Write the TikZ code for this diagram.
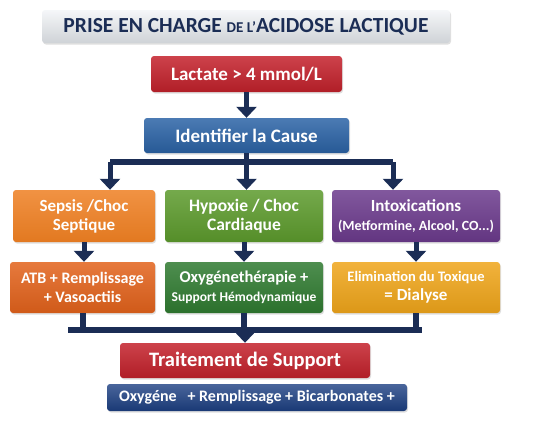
\documentclass[tikz,border=0pt]{standalone}
\usepackage{fontspec}
\setmainfont{Carlito}
\usetikzlibrary{arrows.meta,shadows}

\definecolor{marine}{HTML}{1B2D55}
\definecolor{titrefond}{HTML}{E6EAEF}
\definecolor{rouge}{HTML}{C4212B}
\definecolor{bleu}{HTML}{2B63A6}
\definecolor{orange}{HTML}{EE7F22}
\definecolor{vert}{HTML}{5C9A2C}
\definecolor{violet}{HTML}{6B3A8C}
\definecolor{orangefonce}{HTML}{E2621B}
\definecolor{vertfonce}{HTML}{2F7A30}
\definecolor{jaune}{HTML}{EFA51A}
\definecolor{bleufonce}{HTML}{1C3F82}

\tikzset{
  boite/.style={rounded corners=3pt, inner sep=0pt, align=center, text=white,
    font=\bfseries, drop shadow={opacity=0.25, shadow xshift=1pt, shadow yshift=-1.5pt}},
  fleche/.style={marine, line width=5pt, -{Triangle[width=20pt,length=11pt]}},
  barre/.style={marine, line width=6pt},
}

\begin{document}
\begin{tikzpicture}[x=1pt,y=-1pt]
  \useasboundingbox (0,0) rectangle (545,421);
  % titre
  \node[boite, top color=white!60!titrefond, bottom color=titrefond!90!black, text=marine,
    minimum width=408pt, minimum height=33pt, font=\bfseries\fontsize{21.5}{21}\selectfont]
    (titre) at (246,26.5) {PRISE EN CHARGE {\fontsize{15}{15}\selectfont DE L'}ACIDOSE LACTIQUE};
  % haut
  \node[boite, top color=rouge!85!white, bottom color=rouge!90!black,
    minimum width=191pt, minimum height=36pt, font=\bfseries\fontsize{19}{19}\selectfont]
    (lactate) at (246.5,74) {Lactate > 4 mmol/L};
  \node[boite, top color=bleu!85!white, bottom color=bleu!90!black,
    minimum width=205pt, minimum height=35pt, font=\bfseries\fontsize{19}{19}\selectfont]
    (cause) at (246.5,135.5) {Identifier la Cause};
  % causes
  \node[boite, top color=orange!85!white, bottom color=orange!95!black,
    minimum width=142pt, minimum height=52pt, font=\bfseries\fontsize{17}{19}\selectfont]
    (sepsis) at (84,216) {Sepsis /Choc\\Septique};
  \node[boite, top color=vert!85!white, bottom color=vert!92!black,
    minimum width=158pt, minimum height=52pt, font=\bfseries\fontsize{17.5}{19}\selectfont]
    (hypoxie) at (244,216) {Hypoxie / Choc\\Cardiaque};
  \node[boite, top color=violet!85!white, bottom color=violet!92!black,
    minimum width=168pt, minimum height=52pt, font=\bfseries\fontsize{17}{19}\selectfont]
    (intox) at (416,216) {Intoxications\\{\fontsize{14}{15}\selectfont (Metformine, Alcool, CO...)}};
  % traitements
  \node[boite, top color=orangefonce!85!white, bottom color=orangefonce!92!black,
    minimum width=145pt, minimum height=51pt, font=\bfseries\fontsize{16}{19}\selectfont]
    (atb) at (82.5,287.5) {ATB + Remplissage\\+ Vasoactiis};
  \node[boite, top color=vertfonce!85!white, bottom color=vertfonce!92!black,
    minimum width=158pt, minimum height=51pt, font=\bfseries\fontsize{16.5}{19}\selectfont]
    (oxy) at (244,287.5) {Oxygénethérapie +\\{\fontsize{13.5}{15}\selectfont Support Hémodynamique}};
  \node[boite, top color=jaune!85!white, bottom color=jaune!92!black,
    minimum width=168pt, minimum height=51pt, font=\bfseries\fontsize{14.5}{19}\selectfont]
    (elim) at (416,287.5) {Elimination du Toxique\\{\fontsize{17}{17}\selectfont = Dialyse}};
  % support
  \node[boite, top color=rouge!85!white, bottom color=rouge!90!black,
    minimum width=250pt, minimum height=35pt, font=\bfseries\fontsize{20.5}{20}\selectfont]
    (support) at (245,360.5) {Traitement de Support};
  \node[boite, top color=bleufonce!80!white, bottom color=bleufonce!90!black,
    minimum width=300pt, minimum height=27pt, font=\bfseries\fontsize{16}{16}\selectfont]
    (moyens) at (257,397.5) {Oxygéne~~ + Remplissage + Bicarbonates +};

  % fleches
  \coordinate (fg) at (110,162);
  \coordinate (fd) at (393,162);
  \coordinate (rg) at (68,330);
  \coordinate (rd) at (422,330);

  \draw[fleche] (lactate) -- (cause);
  \draw[barre] (fg) -- (fd);
  \draw[fleche] (cause.south) -- (cause.south |- hypoxie.north);
  \draw[fleche] (fg) -- (fg |- sepsis.north);
  \draw[fleche] (fd) -- (fd |- intox.north);

  \draw[fleche] (sepsis.south) -- (sepsis.south |- atb.north);
  \draw[fleche] (hypoxie.south) -- (hypoxie.south |- oxy.north);
  \draw[fleche] (intox.south) -- (intox.south |- elim.north);

  \draw[barre] (atb.south) -- (atb.south |- rg);
  \draw[barre] (oxy.south) -- (oxy.south |- rg);
  \draw[barre] (elim.south) -- (elim.south |- rg);
  \draw[barre] (rg) -- (rd);
  \draw[fleche] (support.north |- rg) -- (support.north);
\end{tikzpicture}
\end{document}
